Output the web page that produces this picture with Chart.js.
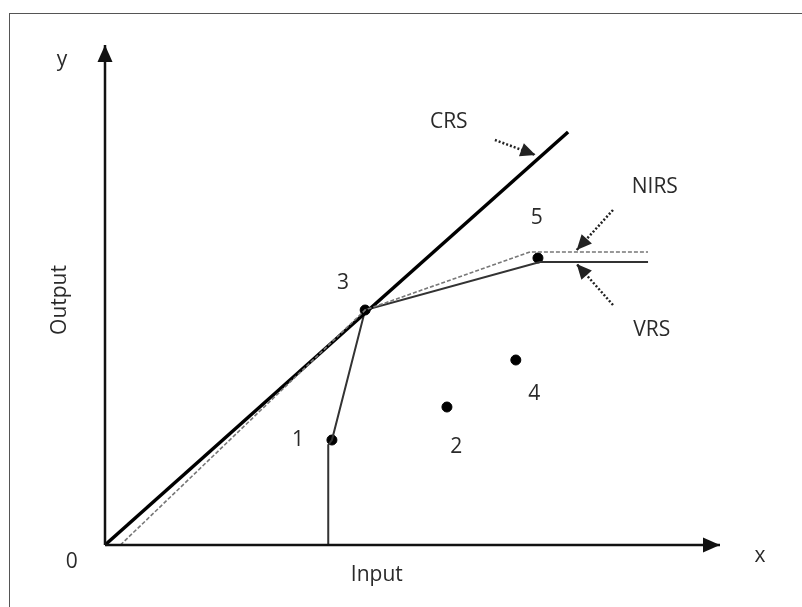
<!DOCTYPE html>
<html>
<head>
<meta charset="utf-8">
<script src="https://cdn.jsdelivr.net/npm/chart.js@4.4.1/dist/chart.umd.min.js"></script>
<style>
	html, body { margin: 0; padding: 0; background: #fff; overflow: hidden; }
	#wrap { position: relative; width: 802px; height: 607px; }
	#frame { position: absolute; left: 9px; top: 13px; width: 900px; height: 700px; border: 1px solid #555; }
	canvas { position: absolute; left: 0; top: 0; }
</style>
</head>
<body>
<div id="wrap">
	<div id="frame"></div>
	<canvas id="deaChart" width="802" height="607"></canvas>
</div>
<script>
// firms (DMU) observed : input / output
const firmLabels = ['1', '2', '3', '4', '5'];
const firmInput = [3.69, 5.56, 4.23, 6.68, 7.04];
const firmOutput = [2.1, 2.76, 4.7, 3.7, 5.74];

// frontiers
const crsX = [0, 7.53];
const crsY = [0, 8.26];
const vrsX = [3.63, 3.63, 3.69, 4.23, 7.07, 8.83];
const vrsY = [0, 2.0, 2.1, 4.7, 5.66, 5.66];
const nirsX = [0.25, 4.23, 6.91, 8.83];
const nirsY = [0, 4.7, 5.86, 5.86];

// pointer arrows (from -> to)
const crsArrowX = [6.34, 7.0];
const crsArrowY = [8.1, 7.8];
const nirsArrowX = [8.26, 7.67];
const nirsArrowY = [6.7, 5.9];
const vrsArrowX = [8.26, 7.67];
const vrsArrowY = [4.8, 5.62];

// axis lines
const xAxisX = [0, 10];
const xAxisY = [0, 0];
const yAxisX = [0, 0];
const yAxisY = [0, 10];

// text labels
const textLabels = ['y', 'x', '0', 'Input', 'Output', 'CRS', 'NIRS', 'VRS'];
const textX = [-0.70, 10.65, -0.54, 4.42, -0.73, 5.59, 8.94, 8.89];
const textY = [9.7, -0.22, -0.34, -0.6, 4.9, 8.46, 7.16, 4.3];
const firmLabelX = [3.14, 5.71, 3.87, 6.98, 7.02];
const firmLabelY = [2.1, 1.96, 5.24, 3.02, 6.54];

const toPoints = (xs, ys) => xs.map((x, i) => ({ x: x, y: ys[i] }));

function lineSet(xs, ys, color, width, dash, head) {
	return {
		data: toPoints(xs, ys),
		showLine: true,
		borderColor: color,
		backgroundColor: color,
		borderWidth: width,
		borderDash: dash,
		pointRadius: 0,
		tension: 0,
		clip: false,
		arrowHead: head,
	};
}

const arrowPlugin = {
	id: 'arrowPlugin',
	afterDatasetsDraw(chart) {
		const ctx = chart.ctx;
		const xs = chart.scales.x;
		const ys = chart.scales.y;
		chart.data.datasets.forEach((ds) => {
			if (!ds.arrowHead) return;
			const n = ds.data.length;
			const a = ds.data[n - 2];
			const b = ds.data[n - 1];
			const x1 = xs.getPixelForValue(a.x), y1 = ys.getPixelForValue(a.y);
			const x2 = xs.getPixelForValue(b.x), y2 = ys.getPixelForValue(b.y);
			const ang = Math.atan2(y2 - y1, x2 - x1);
			const len = ds.arrowHead.len, w = ds.arrowHead.w;
			ctx.save();
			ctx.fillStyle = ds.borderColor;
			ctx.beginPath();
			ctx.moveTo(x2, y2);
			ctx.lineTo(x2 - len * Math.cos(ang) + w / 2 * Math.sin(ang), y2 - len * Math.sin(ang) - w / 2 * Math.cos(ang));
			ctx.lineTo(x2 - len * Math.cos(ang) - w / 2 * Math.sin(ang), y2 - len * Math.sin(ang) + w / 2 * Math.cos(ang));
			ctx.closePath();
			ctx.fill();
			ctx.restore();
		});
	},
	afterDraw(chart) {
		const ctx = chart.ctx;
		const xs = chart.scales.x;
		const ys = chart.scales.y;
		ctx.save();
		ctx.fillStyle = '#2a2a2a';
		ctx.font = '21px "Open Sans"';
		ctx.textAlign = 'center';
		ctx.textBaseline = 'middle';
		textLabels.forEach((t, i) => {
			const px = xs.getPixelForValue(textX[i]);
			const py = ys.getPixelForValue(textY[i]);
			if (t === 'Output') {
				ctx.save();
				ctx.translate(px, py);
				ctx.rotate(-Math.PI / 2);
				ctx.fillText(t, 0, 0);
				ctx.restore();
			} else {
				ctx.fillText(t, px, py);
			}
		});
		firmLabels.forEach((t, i) => {
			ctx.fillText(t, xs.getPixelForValue(firmLabelX[i]), ys.getPixelForValue(firmLabelY[i]));
		});
		ctx.restore();
	},
};

const ctx = document.getElementById('deaChart').getContext('2d');

const data = {
	datasets: [
		lineSet(xAxisX, xAxisY, '#111', 2.5, [], { len: 17, w: 15 }),
		lineSet(yAxisX, yAxisY, '#111', 2.5, [], { len: 17, w: 15 }),
		lineSet(nirsX, nirsY, '#777', 1.6, [4, 2], null),
		lineSet(crsX, crsY, '#000', 3.5, [], null),
		lineSet(vrsX, vrsY, '#333', 2, [], null),
		lineSet(crsArrowX, crsArrowY, '#222', 2.5, [2, 2], { len: 15, w: 14 }),
		lineSet(nirsArrowX, nirsArrowY, '#222', 2.5, [2, 2], { len: 15, w: 14 }),
		lineSet(vrsArrowX, vrsArrowY, '#222', 2.5, [2, 2], { len: 15, w: 14 }),
		{
			data: toPoints(firmInput, firmOutput),
			backgroundColor: '#000',
			borderColor: '#000',
			pointRadius: 5,
			clip: false,
		},
	],
};

const options = {
	responsive: false,
	animation: false,
	layout: {
		padding: { left: 105, right: 82, top: 45, bottom: 62 },
	},
	plugins: {
		legend: { display: false },
		tooltip: { enabled: false },
	},
	scales: {
		x: { type: 'linear', min: 0, max: 10, display: false },
		y: { type: 'linear', min: 0, max: 10, display: false },
	},
};

new Chart(ctx, {
	type: 'scatter',
	data,
	options,
	plugins: [arrowPlugin],
});
</script>
</body>
</html>
